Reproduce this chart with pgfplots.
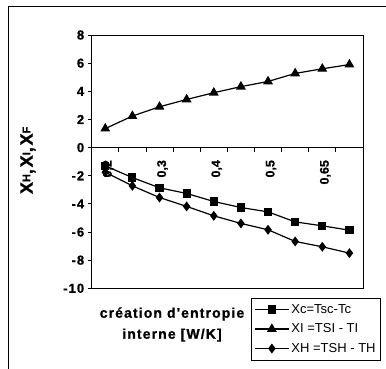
\documentclass[border=0pt]{standalone}
\usepackage{pgfplots}
\pgfplotsset{compat=1.18}
\usepackage{fontspec}
\setmainfont{Liberation Sans}
\begin{document}
\begin{tikzpicture}
\useasboundingbox (0pt,0pt) rectangle (386pt,-368pt);
\draw[line width=0.9pt] (8pt,-420pt) -- (8pt,-6pt) -- (420pt,-6pt);
\begin{axis}[
  at={(91.7pt,-288.3pt)}, anchor=south west,
  scale only axis, width=271.3pt, height=253.3pt,
  xmin=-0.5, xmax=9.5, ymin=-10, ymax=8,
  axis x line*=middle, axis y line*=left,
  axis line style={line width=0.8pt, -},
  /pgf/number format/assume math mode=true,
  xtick={0,2,4,6,8},
  xticklabels={{0,2},{0,3},{0,4},{0,5},{0,65}},
  major x tick style={draw=none},
  minor xtick={-0.5,0.5,...,9.5},
  minor x tick style={line width=0.8pt, black, yshift=-2pt},
  minor tick length=4pt,
  xtick align=center,
  x tick label style={rotate=90, anchor=east, font=\bfseries\addfontfeature{FakeBold=1}\fontsize{12.5}{12.5}\selectfont, xshift=-7pt, yshift=-3pt},
  ytick={-10,-8,...,8},
  ytick align=outside,
  major y tick style={line width=0.8pt, black},
  major tick length=4pt,
  y tick label style={font=\bfseries\addfontfeature{LetterSpace=8,FakeBold=1}\fontsize{13}{13}\selectfont},
  yticklabel={\pgfmathprintnumber[assume math mode=true]{\tick}},
  xlabel={création d'entropie\\interne [W/K]},
  xlabel style={at={(rel axis cs:0.296,-0.143)}, anchor=center, align=center,
    font=\bfseries\addfontfeature{LetterSpace=8,FakeBold=1,Ligatures=TeXOff}\fontsize{14}{21}\selectfont},
  ylabel={X\raisebox{2.5pt}{\fontsize{11}{11}\selectfont H},X\raisebox{2.5pt}{\fontsize{11}{11}\selectfont I},X\raisebox{2.5pt}{\fontsize{11}{11}\selectfont F}},
  ylabel style={at={(rel axis cs:-0.235,0.505)}, anchor=center,
    font=\bfseries\addfontfeature{LetterSpace=10,FakeBold=1}\fontsize{18}{18}\selectfont},
  legend style={at={(rel axis cs:0.587,-0.038)}, anchor=north west,
    draw=black, line width=0.6pt, font=\fontsize{13}{13}\selectfont,
    row sep=5pt, inner xsep=3pt, inner ysep=4pt, cells={anchor=west}},
  legend image code/.code={\draw[mark repeat=2,mark phase=2,#1] plot coordinates {(0pt,0pt) (17pt,0pt) (34pt,0pt)};},
  every axis plot/.append style={line width=1.2pt, black},
  after end axis/.code={\draw[line width=0.8pt] (rel axis cs:0,0) rectangle (rel axis cs:1,1);},
]
\addplot[mark=square*, mark size=3.5pt, mark options={solid}] coordinates {
  (0,-1.3) (1,-2.13) (2,-2.86) (3,-3.26) (4,-3.83) (5,-4.26) (6,-4.57) (7,-5.28) (8,-5.56) (9,-5.87)};
\addlegendentry{Xc=Tsc-Tc}
\addplot[mark=triangle*, mark size=4.5pt, mark options={solid}] coordinates {
  (0,1.35) (1,2.24) (2,2.9) (3,3.42) (4,3.9) (5,4.33) (6,4.7) (7,5.27) (8,5.6) (9,5.9)};
\addlegendentry{XI =TSI - TI}
\addplot[mark=diamond*, mark size=4pt, mark options={solid}] coordinates {
  (0,-1.75) (1,-2.72) (2,-3.55) (3,-4.18) (4,-4.85) (5,-5.39) (6,-5.84) (7,-6.67) (8,-7.05) (9,-7.5)};
\addlegendentry{XH =TSH - TH}
\end{axis}
\end{tikzpicture}
\end{document}
